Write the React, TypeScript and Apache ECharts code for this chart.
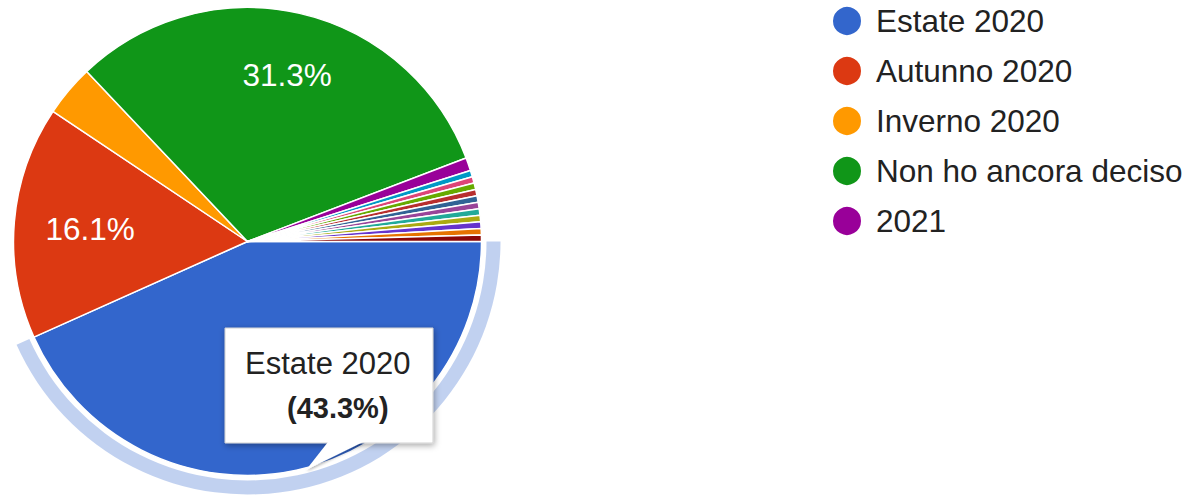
import React, { useEffect, useRef } from "react";
import * as echarts from "echarts";

const categories = [
  "Estate 2020",
  "Autunno 2020",
  "Inverno 2020",
  "Non ho ancora deciso",
  "2021",
  "Altro 1",
  "Altro 2",
  "Altro 3",
  "Altro 4",
  "Altro 5",
  "Altro 6",
  "Altro 7",
  "Altro 8",
  "Altro 9",
  "Altro 10",
  "Altro 11",
];
const counts = [97, 36, 8, 70, 2, 1, 1, 1, 1, 1, 1, 1, 1, 1, 1, 1];
const colors = [
  "#3366cc", "#dc3912", "#ff9900", "#109618", "#990099", "#0099c6", "#dd4477",
  "#66aa00", "#b82e2e", "#316395", "#994499", "#22aa99", "#aaaa11", "#6633cc",
  "#e67300", "#8b0707",
];
const legendNames = categories.slice(0, 5);
const labelledSlices = [1, 3];
const highlighted = 0;

const FONT = "'Liberation Sans', Arial, sans-serif";
const FS = 31.5;

export default function App() {
  const ref = useRef<HTMLDivElement>(null);
  useEffect(() => {
    document.body.style.margin = "0";
    if (!ref.current) return;
    const chart = echarts.init(ref.current, null, { renderer: "svg" });
    const total = counts.reduce((a, b) => a + b, 0);
    const pct = (v: number) => ((v / total) * 100).toFixed(1) + "%";
    const center = [247.5, 241.5];
    const R = 234;

    const mainData = categories.map((n, i) => ({
      name: n,
      value: counts[i],
      itemStyle: { color: colors[i] },
    }));
    const ringData = categories.map((n, i) => ({
      name: n,
      value: counts[i],
      itemStyle: {
        color: i === highlighted ? "rgba(51,102,204,0.3)" : "rgba(0,0,0,0)",
      },
    }));
    const labelData = categories.map((n, i) => ({
      name: n,
      value: counts[i],
      itemStyle: { color: "rgba(0,0,0,0)" },
      label: { show: labelledSlices.includes(i) },
    }));

    const tx = 225, ty = 328, tw = 208, th = 115;
    const Z = 100;

    chart.setOption({
      animation: false,
      legend: {
        data: legendNames,
        orient: "vertical",
        left: 831,
        top: 5,
        padding: 0,
        icon: "circle",
        itemWidth: 30,
        itemHeight: 30,
        itemGap: 18,
        selectedMode: false,
        textStyle: {
          fontSize: FS,
          fontFamily: FONT,
          color: "#222222",
          padding: [0, 0, 0, 9],
        },
      },
      series: [
        {
          type: "pie",
          center,
          radius: [0, R],
          startAngle: 0,
          clockwise: true,
          silent: true,
          label: { show: false },
          labelLine: { show: false },
          itemStyle: { borderColor: "#ffffff", borderWidth: 1.5 },
          data: mainData,
        },
        {
          type: "pie",
          center,
          radius: [239, 253],
          startAngle: 0,
          clockwise: true,
          silent: true,
          label: { show: false },
          labelLine: { show: false },
          data: ringData,
        },
        {
          type: "pie",
          center,
          radius: [108, R],
          startAngle: 0,
          clockwise: true,
          silent: true,
          avoidLabelOverlap: false,
          label: {
            show: false,
            position: "inside",
            color: "#ffffff",
            fontSize: FS,
            fontFamily: FONT,
            formatter: (p: any) => pct(p.value),
          },
          labelLayout: (p: any) => (p.dataIndex === 1 ? { dx: 16, dy: 2 } : { dx: 1, dy: 3 }),
          labelLine: { show: false },
          data: labelData,
        },
      ],
      graphic: {
        elements: [
          {
            type: "rect",
            z: Z,
            shape: { x: tx, y: ty, width: tw, height: th },
            style: {
              fill: "#ffffff",
              stroke: "#d0d0d0",
              lineWidth: 1,
              shadowBlur: 6,
              shadowOffsetX: 1,
              shadowOffsetY: 2,
              shadowColor: "rgba(0,0,0,0.35)",
            },
          },
          {
            type: "polygon",
            z: Z,
            shape: {
              points: [
                [tx + 103, ty + th - 1],
                [tx + 138, ty + th - 1],
                [tx + 81, ty + th + 27],
              ],
            },
            style: {
              fill: "#ffffff",
              shadowBlur: 3,
              shadowOffsetX: 1,
              shadowOffsetY: 1,
              shadowColor: "rgba(0,0,0,0.35)",
            },
          },
          {
            type: "rect",
            z: Z + 1,
            shape: { x: tx + 95, y: ty + th - 8, width: 50, height: 7 },
            style: { fill: "#ffffff" },
          },
          {
            type: "text",
            z: Z + 2,
            x: tx + 20,
            y: ty + 35,
            style: {
              text: categories[highlighted],
              fontSize: FS - 0.5,
              fontFamily: FONT,
              fill: "#222222",
              verticalAlign: "middle",
            },
          },
          {
            type: "text",
            z: Z + 2,
            x: tx + 62,
            y: ty + 80,
            style: {
              text: "(" + pct(counts[highlighted]) + ")",
              fontSize: FS - 2.5,
              fontWeight: "bold",
              fontFamily: FONT,
              fill: "#222222",
              verticalAlign: "middle",
            },
          },
        ],
      },
    });
    return () => chart.dispose();
  }, []);
  return <div ref={ref} style={{ width: 1188, height: 496 }} />;
}
